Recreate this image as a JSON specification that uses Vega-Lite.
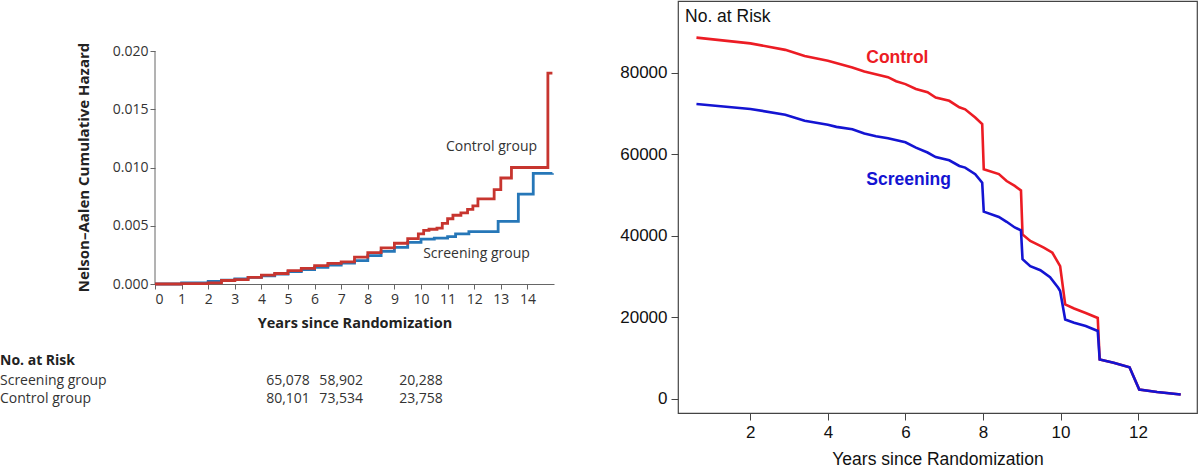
{
  "$schema": "https://vega.github.io/schema/vega-lite/v6.json",
  "padding": 0,
  "background": "white",
  "spacing": 60,
  "config": {"view": {"stroke": null}, "font": "Open Sans"},
  "datasets": {
    "hazard": [
      {"group": "Control", "year": 0, "h": 0},
      {"group": "Control", "year": 1.0, "h": 0.00003},
      {"group": "Control", "year": 2.0, "h": 0.0001},
      {"group": "Control", "year": 2.5, "h": 0.0003},
      {"group": "Control", "year": 3.0, "h": 0.00037},
      {"group": "Control", "year": 3.5, "h": 0.00057},
      {"group": "Control", "year": 4.0, "h": 0.00077},
      {"group": "Control", "year": 4.5, "h": 0.0009},
      {"group": "Control", "year": 5.0, "h": 0.00114},
      {"group": "Control", "year": 5.5, "h": 0.00134},
      {"group": "Control", "year": 6.0, "h": 0.00157},
      {"group": "Control", "year": 6.5, "h": 0.00177},
      {"group": "Control", "year": 7.0, "h": 0.0019},
      {"group": "Control", "year": 7.5, "h": 0.0023},
      {"group": "Control", "year": 8.0, "h": 0.0027},
      {"group": "Control", "year": 8.5, "h": 0.0031},
      {"group": "Control", "year": 9.0, "h": 0.0035},
      {"group": "Control", "year": 9.5, "h": 0.0039},
      {"group": "Control", "year": 9.9, "h": 0.0043},
      {"group": "Control", "year": 10.1, "h": 0.0046},
      {"group": "Control", "year": 10.3, "h": 0.0047},
      {"group": "Control", "year": 10.6, "h": 0.0048},
      {"group": "Control", "year": 10.8, "h": 0.0052},
      {"group": "Control", "year": 11.0, "h": 0.0056},
      {"group": "Control", "year": 11.2, "h": 0.0059},
      {"group": "Control", "year": 11.5, "h": 0.0061},
      {"group": "Control", "year": 11.75, "h": 0.0064},
      {"group": "Control", "year": 11.95, "h": 0.0067},
      {"group": "Control", "year": 12.14, "h": 0.0073},
      {"group": "Control", "year": 12.75, "h": 0.0081},
      {"group": "Control", "year": 13.0, "h": 0.0091},
      {"group": "Control", "year": 13.4, "h": 0.01},
      {"group": "Control", "year": 14.77, "h": 0.0181},
      {"group": "Control", "year": 14.94, "h": 0.0181},
      {"group": "Screening", "year": 0, "h": 0},
      {"group": "Screening", "year": 1.0, "h": 0.00009},
      {"group": "Screening", "year": 2.0, "h": 0.00023},
      {"group": "Screening", "year": 2.5, "h": 0.00034},
      {"group": "Screening", "year": 3.0, "h": 0.00043},
      {"group": "Screening", "year": 3.5, "h": 0.00057},
      {"group": "Screening", "year": 4.0, "h": 0.00069},
      {"group": "Screening", "year": 4.5, "h": 0.00086},
      {"group": "Screening", "year": 5.0, "h": 0.00106},
      {"group": "Screening", "year": 5.5, "h": 0.00123},
      {"group": "Screening", "year": 6.0, "h": 0.00143},
      {"group": "Screening", "year": 6.5, "h": 0.00163},
      {"group": "Screening", "year": 7.0, "h": 0.0018},
      {"group": "Screening", "year": 7.5, "h": 0.002},
      {"group": "Screening", "year": 8.0, "h": 0.00243},
      {"group": "Screening", "year": 8.5, "h": 0.0028},
      {"group": "Screening", "year": 9.0, "h": 0.00314},
      {"group": "Screening", "year": 9.5, "h": 0.00357},
      {"group": "Screening", "year": 10.0, "h": 0.00386},
      {"group": "Screening", "year": 10.5, "h": 0.00394},
      {"group": "Screening", "year": 11.0, "h": 0.00406},
      {"group": "Screening", "year": 11.3, "h": 0.0043},
      {"group": "Screening", "year": 11.8, "h": 0.0045},
      {"group": "Screening", "year": 12.9, "h": 0.00537},
      {"group": "Screening", "year": 13.66, "h": 0.00771},
      {"group": "Screening", "year": 14.22, "h": 0.00949},
      {"group": "Screening", "year": 14.94, "h": 0.0095}
    ],
    "table": [
      {"label": "Screening group", "row": "Screening", "year": 5, "n": "65,078"},
      {"label": "Screening group", "row": "Screening", "year": 7, "n": "58,902"},
      {"label": "Screening group", "row": "Screening", "year": 10, "n": "20,288"},
      {"label": "Control group", "row": "Control", "year": 5, "n": "80,101"},
      {"label": "Control group", "row": "Control", "year": 7, "n": "73,534"},
      {"label": "Control group", "row": "Control", "year": 10, "n": "23,758"}
    ],
    "risk": [
      {"group": "Control", "year": 0.61, "n": 88600},
      {"group": "Control", "year": 2.0, "n": 87200},
      {"group": "Control", "year": 2.9, "n": 85600},
      {"group": "Control", "year": 3.4, "n": 84100},
      {"group": "Control", "year": 4.0, "n": 82950},
      {"group": "Control", "year": 4.63, "n": 81300},
      {"group": "Control", "year": 4.94, "n": 80300},
      {"group": "Control", "year": 5.55, "n": 78900},
      {"group": "Control", "year": 5.76, "n": 77900},
      {"group": "Control", "year": 6.0, "n": 77200},
      {"group": "Control", "year": 6.27, "n": 76000},
      {"group": "Control", "year": 6.57, "n": 75200},
      {"group": "Control", "year": 6.78, "n": 73900},
      {"group": "Control", "year": 7.13, "n": 73100},
      {"group": "Control", "year": 7.39, "n": 71500},
      {"group": "Control", "year": 7.54, "n": 71000},
      {"group": "Control", "year": 7.8, "n": 69000},
      {"group": "Control", "year": 7.98, "n": 67400},
      {"group": "Control", "year": 8.02, "n": 56300},
      {"group": "Control", "year": 8.41, "n": 55100},
      {"group": "Control", "year": 8.61, "n": 53400},
      {"group": "Control", "year": 8.82, "n": 52200},
      {"group": "Control", "year": 8.98, "n": 51100},
      {"group": "Control", "year": 9.02, "n": 40300},
      {"group": "Control", "year": 9.22, "n": 38700},
      {"group": "Control", "year": 9.48, "n": 37500},
      {"group": "Control", "year": 9.58, "n": 37000},
      {"group": "Control", "year": 9.79, "n": 35800},
      {"group": "Control", "year": 9.99, "n": 32500},
      {"group": "Control", "year": 10.12, "n": 23100},
      {"group": "Control", "year": 10.35, "n": 22100},
      {"group": "Control", "year": 10.65, "n": 21000},
      {"group": "Control", "year": 10.96, "n": 19800},
      {"group": "Control", "year": 11.01, "n": 9600},
      {"group": "Control", "year": 11.37, "n": 8800},
      {"group": "Control", "year": 11.78, "n": 7700},
      {"group": "Control", "year": 12.03, "n": 2200},
      {"group": "Control", "year": 12.49, "n": 1600},
      {"group": "Control", "year": 13.1, "n": 1000},
      {"group": "Screening", "year": 0.61, "n": 72300},
      {"group": "Screening", "year": 2.0, "n": 71100},
      {"group": "Screening", "year": 2.9, "n": 69700},
      {"group": "Screening", "year": 3.4, "n": 68200},
      {"group": "Screening", "year": 4.0, "n": 67200},
      {"group": "Screening", "year": 4.22, "n": 66700},
      {"group": "Screening", "year": 4.63, "n": 66100},
      {"group": "Screening", "year": 4.94, "n": 65100},
      {"group": "Screening", "year": 5.24, "n": 64400},
      {"group": "Screening", "year": 5.55, "n": 63900},
      {"group": "Screening", "year": 6.0, "n": 62900},
      {"group": "Screening", "year": 6.27, "n": 61600},
      {"group": "Screening", "year": 6.57, "n": 60400},
      {"group": "Screening", "year": 6.78, "n": 59300},
      {"group": "Screening", "year": 7.13, "n": 58500},
      {"group": "Screening", "year": 7.39, "n": 57100},
      {"group": "Screening", "year": 7.54, "n": 56700},
      {"group": "Screening", "year": 7.8, "n": 55100},
      {"group": "Screening", "year": 7.98, "n": 53000},
      {"group": "Screening", "year": 8.02, "n": 45900},
      {"group": "Screening", "year": 8.41, "n": 44600},
      {"group": "Screening", "year": 8.61, "n": 43400},
      {"group": "Screening", "year": 8.82, "n": 42000},
      {"group": "Screening", "year": 8.98, "n": 41300},
      {"group": "Screening", "year": 9.02, "n": 34200},
      {"group": "Screening", "year": 9.22, "n": 32500},
      {"group": "Screening", "year": 9.48, "n": 31500},
      {"group": "Screening", "year": 9.73, "n": 29800},
      {"group": "Screening", "year": 9.94, "n": 27200},
      {"group": "Screening", "year": 9.99, "n": 26400},
      {"group": "Screening", "year": 10.12, "n": 19400},
      {"group": "Screening", "year": 10.35, "n": 18600},
      {"group": "Screening", "year": 10.65, "n": 17800},
      {"group": "Screening", "year": 10.96, "n": 16600},
      {"group": "Screening", "year": 11.01, "n": 9600},
      {"group": "Screening", "year": 11.37, "n": 8800},
      {"group": "Screening", "year": 11.78, "n": 7700},
      {"group": "Screening", "year": 12.03, "n": 2200},
      {"group": "Screening", "year": 12.49, "n": 1600},
      {"group": "Screening", "year": 13.1, "n": 1000}
    ]
  },
  "hconcat": [
    {
      "width": 399,
      "height": 283,
      "encoding": {
        "x": {"type": "quantitative", "scale": {"domain": [0, 15], "nice": false, "zero": false},
          "axis": {"values": [0,1,2,3,4,5,6,7,8,9,10,11,12,13,14], "format": "d", "grid": false,
            "domainColor": "#666", "tickColor": "#666", "tickSize": 5, "labelFontSize": 14, "labelColor": "#333",
            "labelPadding": 3, "title": "Years since Randomization", "titleFontSize": 14.5, "titleFontWeight": "bold",
            "titleColor": "#222", "titlePadding": 10}},
        "y": {"type": "quantitative", "scale": {"domain": [0, 0.024292], "nice": false, "zero": false},
          "axis": {"values": [0, 0.005, 0.01, 0.015, 0.02], "format": ".3f", "grid": false, "domain": false,
            "tickColor": "#666", "tickSize": 5, "labelFontSize": 14, "labelColor": "#333", "labelPadding": 2,
            "title": "Nelson–Aalen Cumulative Hazard", "titleFontSize": 15, "titleFontWeight": "bold",
            "titleColor": "#222", "titlePadding": 21, "titleY": 166}}
      },
      "layer": [
        {"data": {"values": [{}]}, "mark": {"type": "rule", "color": "#666", "strokeWidth": 1},
         "encoding": {"x": {"datum": 0}, "y": {"datum": 0}, "y2": {"datum": 0.02}}},
        {"data": {"name": "hazard"}, "transform": [{"filter": "datum.group === 'Screening'"}],
         "mark": {"type": "line", "interpolate": "step-after", "strokeWidth": 2.8, "color": "#2677b8"},
         "encoding": {"x": {"field": "year"}, "y": {"field": "h"}}},
        {"data": {"name": "hazard"}, "transform": [{"filter": "datum.group === 'Control'"}],
         "mark": {"type": "line", "interpolate": "step-after", "strokeWidth": 2.8, "color": "#c7352f"},
         "encoding": {"x": {"field": "year"}, "y": {"field": "h"}}},
        {"data": {"values": [{}]}, "mark": {"type": "text", "align": "left", "baseline": "middle", "fontSize": 14, "color": "#333"},
         "encoding": {"x": {"datum": 10.94}, "y": {"datum": 0.01176}, "text": {"value": "Control group"}}},
        {"data": {"values": [{}]}, "mark": {"type": "text", "align": "left", "baseline": "middle", "fontSize": 14, "color": "#333"},
         "encoding": {"x": {"datum": 10.08}, "y": {"datum": 0.002575}, "text": {"value": "Screening group"}}},
        {"data": {"values": [{}]}, "mark": {"type": "text", "align": "left", "baseline": "middle", "fontSize": 14, "fontWeight": "bold", "color": "#222"},
         "encoding": {"x": {"datum": -5.827}, "y": {"datum": -0.00661}, "text": {"value": "No. at Risk"}}},
        {"data": {"name": "table"}, "transform": [{"filter": "datum.row === 'Screening' && datum.year === 5"}],
         "mark": {"type": "text", "align": "left", "baseline": "middle", "fontSize": 14, "color": "#333"},
         "encoding": {"x": {"datum": -5.827}, "y": {"datum": -0.008326}, "text": {"field": "label"}}},
        {"data": {"name": "table"}, "transform": [{"filter": "datum.row === 'Control' && datum.year === 5"}],
         "mark": {"type": "text", "align": "left", "baseline": "middle", "fontSize": 14, "color": "#333"},
         "encoding": {"x": {"datum": -5.827}, "y": {"datum": -0.00987}, "text": {"field": "label"}}},
        {"data": {"name": "table"}, "transform": [{"filter": "datum.row === 'Screening'"}],
         "mark": {"type": "text", "align": "center", "baseline": "middle", "fontSize": 14, "color": "#333"},
         "encoding": {"x": {"field": "year"}, "y": {"datum": -0.008326}, "text": {"field": "n"}}},
        {"data": {"name": "table"}, "transform": [{"filter": "datum.row === 'Control'"}],
         "mark": {"type": "text", "align": "center", "baseline": "middle", "fontSize": 14, "color": "#333"},
         "encoding": {"x": {"field": "year"}, "y": {"datum": -0.00987}, "text": {"field": "n"}}}
      ]
    },
    {
      "width": 519,
      "height": 412,
      "view": {"stroke": "#444", "strokeWidth": 1.2},
      "encoding": {
        "x": {"type": "quantitative", "scale": {"domain": [0.134, 13.52], "nice": false, "zero": false},
          "axis": {"values": [2,4,6,8,10,12], "format": "d", "grid": false, "domain": false, "tickColor": "#444", "tickSize": 7,
            "labelFont": "Liberation Sans", "labelFontSize": 17, "labelColor": "#111", "labelPadding": 4,
            "title": "Years since Randomization", "titleFont": "Liberation Sans", "titleFontSize": 17.5,
            "titleFontWeight": "normal", "titleColor": "#111", "titlePadding": 10}},
        "y": {"type": "quantitative", "scale": {"domain": [-3540, 97600], "nice": false, "zero": false},
          "axis": {"values": [0, 20000, 40000, 60000, 80000], "format": "d", "grid": false, "domain": false, "tickColor": "#444",
            "tickSize": 7, "labelFont": "Liberation Sans", "labelFontSize": 17, "labelColor": "#111", "labelPadding": 4, "title": null}}
      },
      "layer": [
        {"data": {"name": "risk"}, "transform": [{"filter": "datum.group === 'Control'"}],
         "mark": {"type": "line", "strokeWidth": 2.6, "color": "#ec1c24"},
         "encoding": {"x": {"field": "year"}, "y": {"field": "n"}}},
        {"data": {"name": "risk"}, "transform": [{"filter": "datum.group === 'Screening'"}],
         "mark": {"type": "line", "strokeWidth": 2.6, "color": "#1414d2"},
         "encoding": {"x": {"field": "year"}, "y": {"field": "n"}}},
        {"data": {"values": [{}]}, "mark": {"type": "text", "align": "left", "baseline": "middle", "font": "Liberation Sans", "fontSize": 17.5, "color": "#111"},
         "encoding": {"x": {"datum": 0.315}, "y": {"datum": 93760}, "text": {"value": "No. at Risk"}}},
        {"data": {"values": [{}]}, "mark": {"type": "text", "align": "left", "baseline": "middle", "font": "Liberation Sans", "fontSize": 17.5, "fontWeight": "bold", "color": "#ec1c24"},
         "encoding": {"x": {"datum": 4.99}, "y": {"datum": 83690}, "text": {"value": "Control"}}},
        {"data": {"values": [{}]}, "mark": {"type": "text", "align": "left", "baseline": "middle", "font": "Liberation Sans", "fontSize": 17.5, "fontWeight": "bold", "color": "#1414d2"},
         "encoding": {"x": {"datum": 4.99}, "y": {"datum": 53640}, "text": {"value": "Screening"}}}
      ]
    }
  ]
}
